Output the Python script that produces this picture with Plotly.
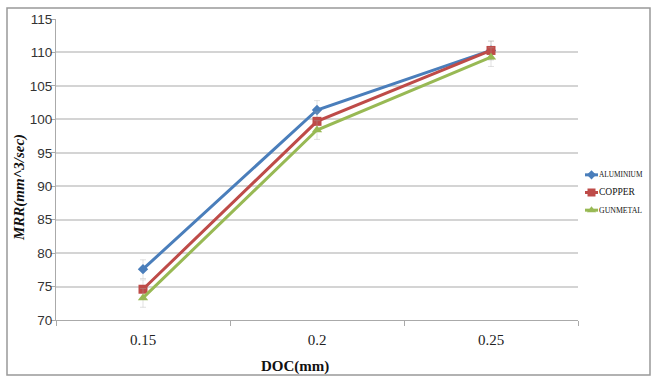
import plotly.graph_objects as go

doc = ["0.15", "0.2", "0.25"]
aluminium = [77.6, 101.4, 110.3]
copper = [74.6, 99.7, 110.3]
gunmetal = [73.3, 98.4, 109.3]
err = [1.4, 1.4, 1.4]
yticks = [70, 75, 80, 85, 90, 95, 100, 105, 110, 115]

names = ["ALUMINIUM", "COPPER", "GUNMETAL"]
colors = ["#4A7EBB", "#BE4B48", "#98B954"]
symbols = ["diamond", "square", "triangle-up"]
sizes = [8, 9, 9]
legend_font = [7.3, 9.5, 7.8]
values = [aluminium, copper, gunmetal]

SERIF = "Liberation Serif, Times New Roman, serif"
SANS = "Liberation Sans, Arial, sans-serif"
W, H = 651, 376

fig = go.Figure()
for name, vals, col, sym, sz in zip(names, values, colors, symbols, sizes):
    fig.add_trace(go.Scatter(
        x=doc, y=vals, name=name, mode="lines+markers",
        line=dict(color=col, width=3),
        marker=dict(symbol=sym, size=sz, color=col),
        error_y=dict(type="data", array=err, visible=True,
                     color="rgba(170,170,170,0.35)", thickness=1, width=3),
        showlegend=False,
    ))

# manual legend (small subplot on the right)
for i, (name, col, sym, sz, fs) in enumerate(zip(names, colors, symbols, sizes, legend_font)):
    fig.add_trace(go.Scatter(
        x=[0, 1], y=[i, i], mode="lines", line=dict(color=col, width=3),
        xaxis="x2", yaxis="y2", showlegend=False, hoverinfo="skip"))
    fig.add_trace(go.Scatter(
        x=[0.5], y=[i], mode="markers", marker=dict(symbol=sym, size=sz - 1, color=col),
        xaxis="x2", yaxis="y2", showlegend=False, hoverinfo="skip"))
    fig.add_annotation(x=1, y=i, xref="x2", yref="y2", text=name, showarrow=False,
                       xanchor="left", yanchor="middle", xshift=-1,
                       font=dict(size=fs, family=SERIF, color="#111"))

px_l, px_r, px_t, px_b = 56, 578, 19, 320

fig.update_layout(
    width=W, height=H,
    margin=dict(l=0, r=0, t=0, b=0),
    paper_bgcolor="white", plot_bgcolor="white",
    font=dict(family=SERIF, color="#222"),
    showlegend=False,
    xaxis=dict(domain=[px_l / W, px_r / W], type="category", range=[-0.5, 2.5],
               tickson="boundaries", ticks="outside", ticklen=5, automargin=False,
               ticklabelstandoff=6,
               tickcolor="#aaa", showline=True, linecolor="#aaa", linewidth=1,
               showgrid=False, tickfont=dict(size=15, family=SERIF, color="#222")),
    yaxis=dict(domain=[1 - px_b / H, 1 - px_t / H], range=[70, 115], tickvals=yticks,
               ticks="outside", ticklen=4, automargin=False, ticklabelstandoff=-4,
               tickcolor="#aaa", showline=True, linecolor="#aaa", linewidth=1,
               showgrid=True, gridcolor="#d4d4d4", gridwidth=1.5,
               tickfont=dict(size=13.5, family=SANS, color="#333"), zeroline=False),
    xaxis2=dict(domain=[585 / W, 598 / W], range=[0, 1], visible=False, fixedrange=True),
    yaxis2=dict(domain=[1 - 219 / H, 1 - 166 / H], range=[2.5, -0.5], visible=False,
                fixedrange=True, anchor="x2"),
    shapes=[dict(type="rect", xref="paper", yref="paper",
                 x0=7 / W, x1=650 / W, y0=1 - 375 / H, y1=1 - 8 / H,
                 line=dict(color="#999", width=1.5), fillcolor="rgba(0,0,0,0)")],
)
fig.update_layout(xaxis2_anchor="y2")

fig.add_annotation(x=295 / W, y=1 - 366 / H, xref="paper", yref="paper",
                   text="<b>DOC(mm)</b>", showarrow=False, xanchor="center", yanchor="middle",
                   font=dict(size=15, family=SERIF, color="#111"))
fig.add_annotation(x=19 / W, y=1 - 188 / H, xref="paper", yref="paper",
                   text="<b><i>MRR(mm^3/sec)</i></b>", showarrow=False, textangle=-90,
                   xanchor="center", yanchor="middle",
                   font=dict(size=15, family=SERIF, color="#111"))

fig.write_html("out.html")
